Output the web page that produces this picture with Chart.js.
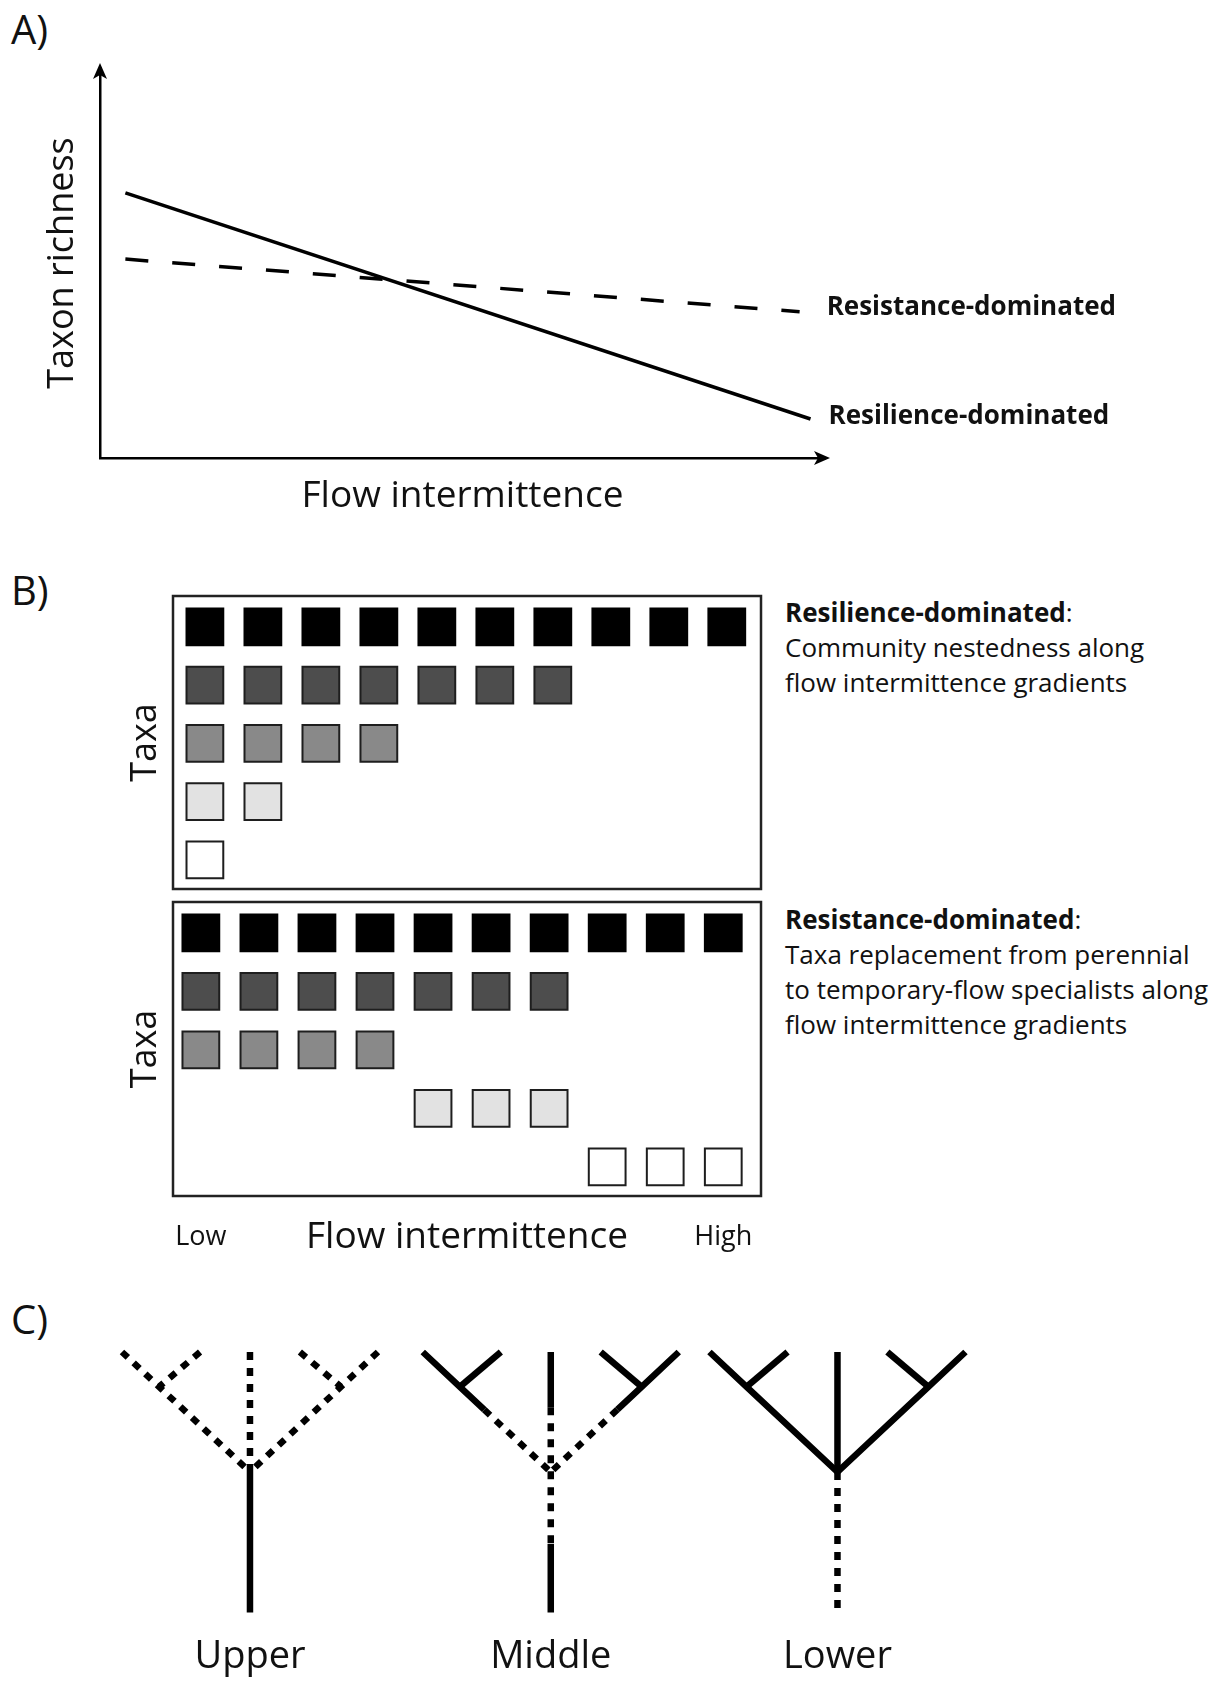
<!DOCTYPE html>
<html lang="en">
<head>
<meta charset="utf-8">
<title>Flow intermittence, taxon richness and community patterns</title>
<script src="https://cdn.jsdelivr.net/npm/chart.js@4.4.1/dist/chart.umd.min.js"></script>
<style>
  html, body { margin: 0; padding: 0; background: #fff; }
  body { position: relative; width: 1223px; height: 1681px; overflow: hidden;
         font-family: "Open Sans", Lato, sans-serif; color: #111; }
  canvas { position: absolute; left: 0; }
  .tag { position: absolute; left: 11px; font-size: 40px; line-height: 40px; }
  .note { position: absolute; left: 785px; font-size: 26px; line-height: 35px; white-space: nowrap; }
  .note b { font-weight: 700; }
</style>
</head>
<body>
<div class="tag" style="top:9px">A)</div>
<div class="tag" style="top:570px">B)</div>
<div class="tag" style="top:1299px">C)</div>

<canvas id="richness" width="1223" height="540" style="top:0"></canvas>
<canvas id="nested" width="780" height="340" style="top:560px"></canvas>
<canvas id="turnover" width="780" height="390" style="top:900px"></canvas>
<canvas id="network" width="1223" height="390" style="top:1300px"></canvas>

<div class="note" style="top:595px"><b>Resilience-dominated</b>:<br>Community nestedness along<br>flow intermittence gradients</div>
<div class="note" style="top:902px"><b>Resistance-dominated</b>:<br>Taxa replacement from perennial<br>to temporary-flow specialists along<br>flow intermittence gradients</div>

<script>
Chart.defaults.font.family = '"Open Sans", Lato, sans-serif';
Chart.defaults.color = '#111';
Chart.defaults.animation = false;

// A) taxon richness along flow intermittence (conceptual units)
const resilienceX = [0.35, 9.8];
const resilienceY = [6.8, 1.0];
const resistanceX = [0.35, 9.65];
const resistanceY = [5.1, 3.75];

// B) five taxa (rows) at ten sites from low to high intermittence
const sites = [1, 2, 3, 4, 5, 6, 7, 8, 9, 10];
const gradientEnds = ['Low', 'High'];
const nestedTaxa = [
  [1, 2, 3, 4, 5, 6, 7, 8, 9, 10],
  [1, 2, 3, 4, 5, 6, 7],
  [1, 2, 3, 4],
  [1, 2],
  [1]
];
const turnoverTaxa = [
  [1, 2, 3, 4, 5, 6, 7, 8, 9, 10],
  [1, 2, 3, 4, 5, 6, 7],
  [1, 2, 3, 4],
  [5, 6, 7],
  [8, 9, 10]
];

// C) idealised river network, fork at (0,0)
const reachNames = ['Upper', 'Middle', 'Lower'];
const reachPos = [0, 2.35, 4.59];
const nodes = {
  tipL: [-1, 1], subL: [-0.71, 0.71], twigL: [-0.39, 1], midL: [-0.52, 0.52],
  tipR: [1, 1], subR: [0.71, 0.71], twigR: [0.39, 1], midR: [0.52, 0.52],
  top: [0, 1], stemA: [0, 0.54], fork: [0, 0], stemB: [0, -0.6], mouth: [0, -1.17]
};
// each path: flow state, then the nodes it runs through
const upperReach = [
  ['dry', 'tipL', 'subL', 'fork'], ['dry', 'twigL', 'subL'],
  ['dry', 'tipR', 'subR', 'fork'], ['dry', 'twigR', 'subR'],
  ['dry', 'top', 'fork'], ['wet', 'fork', 'mouth']
];
const middleReach = [
  ['wet', 'tipL', 'subL', 'midL'], ['dry', 'midL', 'fork'], ['wet', 'twigL', 'subL'],
  ['wet', 'tipR', 'subR', 'midR'], ['dry', 'midR', 'fork'], ['wet', 'twigR', 'subR'],
  ['wet', 'top', 'stemA'], ['dry', 'stemA', 'stemB'], ['wet', 'stemB', 'mouth']
];
const lowerReach = [
  ['wet', 'tipL', 'subL', 'fork'], ['wet', 'twigL', 'subL'],
  ['wet', 'tipR', 'subR', 'fork'], ['wet', 'twigR', 'subR'],
  ['wet', 'top', 'fork'], ['dry', 'fork', 'mouth']
];

const taxaShades = ['#000000', '#4d4d4d', '#898989', '#e2e2e2', '#ffffff'];
const pts = (xs, ys) => xs.map((x, i) => ({x, y: ys[i]}));
const noGrid = {display: false, drawTicks: false};

const arrowHeads = {
  id: 'arrowHeads',
  afterDraw(chart) {
    const {ctx, chartArea: {left, top, right, bottom}} = chart;
    ctx.save();
    ctx.fillStyle = '#000';
    ctx.beginPath();
    ctx.moveTo(left, top - 5);
    ctx.lineTo(left - 7, top + 11);
    ctx.lineTo(left, top + 7);
    ctx.lineTo(left + 7, top + 11);
    ctx.closePath();
    ctx.moveTo(right + 5, bottom);
    ctx.lineTo(right - 11, bottom - 7);
    ctx.lineTo(right - 7, bottom);
    ctx.lineTo(right - 11, bottom + 7);
    ctx.closePath();
    ctx.fill();
    ctx.restore();
  }
};

const lineEndLabels = {
  id: 'lineEndLabels',
  afterDatasetsDraw(chart) {
    const ctx = chart.ctx;
    chart.data.datasets.forEach((ds, i) => {
      const pts = chart.getDatasetMeta(i).data;
      const last = pts[pts.length - 1];
      ctx.save();
      ctx.font = 'bold 26px "Open Sans", Lato, sans-serif';
      ctx.fillStyle = '#111';
      ctx.textBaseline = 'middle';
      ctx.fillText(ds.label, last.x + ds.labelDx, last.y + ds.labelDy);
      ctx.restore();
    });
  }
};

const frame = {
  id: 'frame',
  beforeDatasetsDraw(chart) {
    const {ctx, chartArea: a} = chart;
    ctx.save();
    ctx.lineWidth = 2.5;
    ctx.strokeStyle = '#222';
    ctx.strokeRect(a.left, a.top, a.right - a.left, a.bottom - a.top);
    ctx.restore();
  }
};

new Chart('richness', {
  type: 'scatter',
  data: {
    datasets: [
      {label: 'Resistance-dominated', data: pts(resistanceX, resistanceY), showLine: true,
       borderDash: [23, 24], labelDx: 27, labelDy: -4},
      {label: 'Resilience-dominated', data: pts(resilienceX, resilienceY), showLine: true,
       labelDx: 18, labelDy: -2}
    ]
  },
  options: {
    responsive: false,
    elements: {
      point: {radius: 0},
      line: {borderColor: '#000', borderWidth: 3.5, tension: 0}
    },
    layout: {autoPadding: false, padding: {left: 41.4, top: 68, right: 398, bottom: 21.8}},
    scales: {
      x: {
        min: 0, max: 10,
        grid: noGrid, ticks: {display: false},
        border: {display: true, color: '#000', width: 2.5},
        title: {display: true, text: 'Flow intermittence', font: {size: 37}, padding: {top: 15.8, bottom: 0}}
      },
      y: {
        min: 0, max: 10,
        grid: noGrid, ticks: {display: false},
        border: {display: true, color: '#000', width: 2.5},
        title: {display: true, text: 'Taxon richness', font: {size: 36}, padding: {top: 0, bottom: 15.4}}
      }
    },
    plugins: {legend: {display: false}, tooltip: {enabled: false}}
  },
  plugins: [arrowHeads, lineEndLabels]
});

function taxaChart(id, rows, xMin, xMax, withGradient) {
  return new Chart(id, {
    type: 'scatter',
    data: {
      datasets: rows.map((cols, r) => ({
        data: cols.map(c => ({x: c, y: r + 1})),
        backgroundColor: taxaShades[r],
        borderColor: r === 0 ? '#000' : '#1e1e1e'
      }))
    },
    options: {
      responsive: false,
      elements: {point: {pointStyle: 'rect', radius: 26, borderWidth: 2}},
      layout: {
        autoPadding: false,
        padding: withGradient
          ? {left: 124.4, right: 19, top: 2, bottom: 30.8}
          : {left: 124.4, right: 19, top: 36, bottom: 11}
      },
      scales: {
        x: {
          min: xMin, max: xMax,
          display: withGradient,
          grid: noGrid, border: {display: false},
          afterBuildTicks: s => { s.ticks = [sites[0], sites[sites.length - 1]].map(v => ({value: v})); },
          ticks: {font: {size: 27}, padding: 24.8, maxRotation: 0, autoSkip: false,
                  callback: (v, i) => gradientEnds[i]},
          title: {display: true, text: 'Flow intermittence', font: {size: 37}, padding: {top: -63.2, bottom: 0}}
        },
        y: {
          min: 0.47, max: 5.5, reverse: true,
          grid: noGrid, border: {display: false}, ticks: {display: false},
          title: {display: true, text: 'Taxa', font: {size: 36}, padding: {top: 0, bottom: 5.4}}
        }
      },
      plugins: {legend: {display: false}, tooltip: {enabled: false}}
    },
    plugins: [frame]
  });
}

taxaChart('nested', nestedTaxa, 0.45, 10.59, false);
taxaChart('turnover', turnoverTaxa, 0.52, 10.65, true);

const networkSets = [];
[upperReach, middleReach, lowerReach].forEach((reach, i) => {
  reach.forEach(([state, ...path]) => {
    networkSets.push({
      data: path.map(n => ({x: reachPos[i] + nodes[n][0], y: nodes[n][1]})),
      showLine: true,
      borderDash: state === 'dry' ? [8, 8] : []
    });
  });
});

new Chart('network', {
  type: 'scatter',
  data: {datasets: networkSets},
  options: {
    responsive: false,
    elements: {
      point: {radius: 0},
      line: {borderColor: '#000', borderWidth: 6.5, borderCapStyle: 'butt', tension: 0}
    },
    layout: {autoPadding: false, padding: {left: 0, right: 0, top: 16, bottom: 4}},
    scales: {
      x: {
        min: -1.953, max: 7.602,
        grid: noGrid, border: {display: false},
        afterBuildTicks: s => { s.ticks = reachPos.map(v => ({value: v})); },
        ticks: {font: {size: 38}, padding: 6.2, maxRotation: 0, autoSkip: false,
                callback: (v, i) => reachNames[i]}
      },
      y: {min: -1.3, max: 1.3, display: false}
    },
    plugins: {legend: {display: false}, tooltip: {enabled: false}}
  }
});
</script>
</body>
</html>
